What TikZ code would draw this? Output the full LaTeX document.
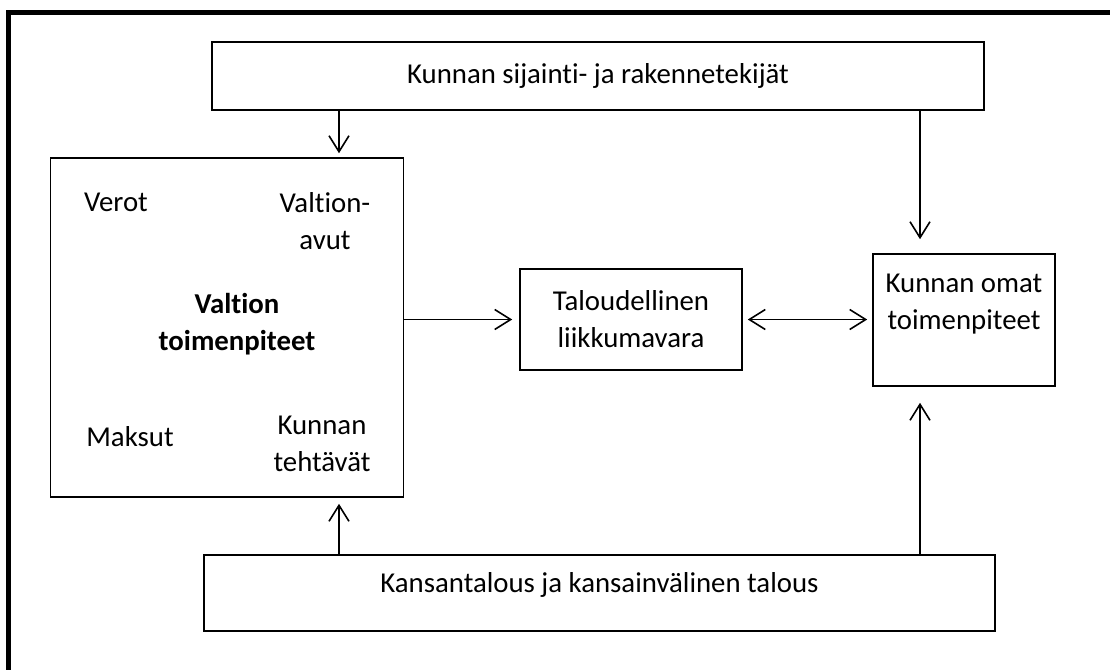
\documentclass[tikz,border=0pt]{standalone}
\usepackage{fontspec}
\setmainfont{Carlito}[Ligatures=NoCommon]
\usepackage{tikz}
\usetikzlibrary{arrows.meta,positioning,calc}

\tikzset{
  box/.style={draw, line width=0.8pt, align=center, inner sep=0pt},
  txt/.style={align=center, inner sep=0pt},
  arr/.style={line width=0.8pt, -{Straight Barb[length=8pt,width=10pt]}}
}

\begin{document}
\begin{tikzpicture}[x=0.5pt, y=-0.5pt, font=\fontsize{14.4}{18.5}\selectfont]
        \useasboundingbox (0,0) rectangle (1110,670);
        % frame
        \draw[line width=2.5pt] (8,670) -- (8,12.5) -- (1110,12.5);
        % boxes
        \node[box, minimum width=386pt, minimum height=34pt] (sij) at (598,76) {Kunnan sijainti- ja rakennetekijät};
        \node[box, minimum width=176.5pt, minimum height=169.5pt] (valtion) at (227,327.5) {};
        \node[box, minimum width=111pt, minimum height=50.5pt] (talous) at (631,319.5) {Taloudellinen\\liikkumavara};
        \node[box, minimum width=91pt, minimum height=66pt] (omat) at (964,320) {Kunnan omat\\toimenpiteet\\\mbox{}};
        \node[box, minimum width=395.5pt, minimum height=38pt] (kansa) at (599.5,593) {Kansantalous ja kansainvälinen talous\\[-8pt]\mbox{}};
        % inside the state box
        \node[txt] (verot) at (116,202) {Verot};
        \node[txt] (avut) at (325,221.5) {Valtion-\\avut};
        \node[txt, font=\fontsize{14.4}{18.5}\selectfont\bfseries] (vtoim) at (237,324.5) {Valtion\\toimenpiteet};
        \node[txt] (maksut) at (130,437) {Maksut};
        \node[txt] (tehtavat) at (322,444) {Kunnan\\tehtävät};
        % connectors
        \coordinate (vx) at (339,0);
        \coordinate (kx) at (920,0);
        \draw[arr, shorten >=2pt] (vx |- sij.south) -- (vx |- valtion.north);
        \draw[arr, shorten >=7pt] (kx |- sij.south) -- (kx |- omat.north);
        \draw[arr, shorten >=3.5pt] (valtion.east |- talous.west) -- (talous.west);
        \draw[arr, {Straight Barb[length=8pt,width=10pt]}-{Straight Barb[length=8pt,width=10pt]}, shorten >=2.5pt, shorten <=2.5pt] (talous.east) -- (omat.west |- talous.east);
        \draw[arr, shorten >=3pt] (vx |- kansa.north) -- (vx |- valtion.south);
        \draw[arr, shorten >=8pt] (kx |- kansa.north) -- (kx |- omat.south);
    \end{tikzpicture}
\end{document}
